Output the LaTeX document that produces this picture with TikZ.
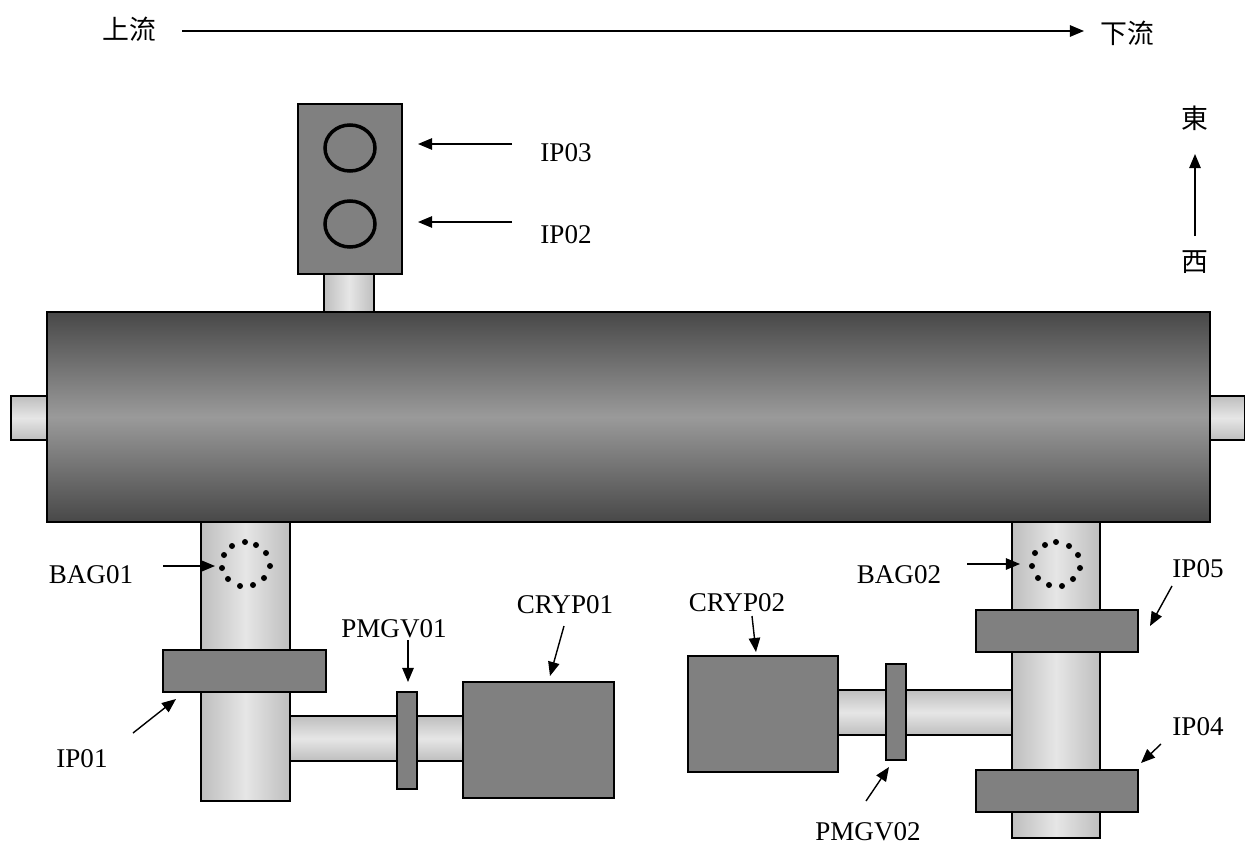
\documentclass[tikz,border=0pt]{standalone}
\usepackage{fontspec}
\setmainfont{Liberation Serif}
\newfontfamily\cjk{Noto Sans CJK TC}
\usetikzlibrary{arrows.meta}
\definecolor{boxgray}{HTML}{808080}
\definecolor{bodydark}{HTML}{484848}
\definecolor{bodymid}{HTML}{9A9A9A}
\definecolor{pipeedge}{HTML}{BEBEBE}
\definecolor{pipemid}{HTML}{E6E6E6}
\tikzset{
  part/.style={draw=black,line width=1pt},
  graybox/.style={part,fill=boxgray},
  vpipe/.style={part,left color=pipeedge,right color=pipeedge,middle color=pipemid},
  hpipe/.style={part,top color=pipeedge,bottom color=pipeedge,middle color=pipemid},
  mainbody/.style={part,top color=bodydark,bottom color=bodydark,middle color=bodymid},
  callout/.style={-{Stealth[length=8pt,width=6.5pt,inset=0pt]},line width=0.8pt},
  tag/.style={font=\fontsize{15.4pt}{17pt}\selectfont,inner sep=0pt},
  cjktag/.style={font=\fontsize{15.3pt}{17pt}\selectfont\cjk,inner sep=0pt},
}
\begin{document}
\begin{tikzpicture}[x=0.02cm,y=-0.02cm]
\useasboundingbox (0,0) rectangle (1245,845);
% ---- stubs and columns ----
\draw[hpipe] (11,396) rectangle (47,440);
\draw[hpipe] (1210,396) rectangle (1245,440);
\draw[vpipe] (324,274) rectangle (374,312);
\draw[vpipe] (201,522) rectangle (290,801);
\draw[vpipe] (1012,522) rectangle (1100,838);
\draw[mainbody] (47,312) rectangle (1210,522);
% ---- top box ----
\draw[graybox] (298,104) rectangle (402,274);
\draw[line width=2pt] (350,148) ellipse (25 and 23);
\draw[line width=2pt] (350,224) ellipse (25 and 23);
% ---- left line ----
\draw[hpipe] (290,716) rectangle (463,761);
\draw[graybox] (163,650) rectangle (326,692);
\draw[graybox] (397,692) rectangle (417,789);
\draw[graybox] (463,682) rectangle (614,798);
\foreach \x/\y in {245/542,256/545,266/553,270/566,264/578,253/585,240/586,228/579,222/568,224/555,232/546}
  \fill (\x,\y) circle (3);
% ---- right line ----
\draw[hpipe] (838,690) rectangle (1012,735);
\draw[graybox] (976,610) rectangle (1138,652);
\draw[graybox] (976,770) rectangle (1138,812);
\draw[graybox] (886,664) rectangle (906,760);
\draw[graybox] (688,656) rectangle (838,772);
\foreach \x/\y in {1056/542,1069/546,1078/555,1080/568,1073/579,1062/586,1049/585,1038/578,1032/566,1035/553,1045/545}
  \fill (\x,\y) circle (3);
% ---- flow and compass ----
\node[cjktag] (upstream) at (129,29) {上流};
\node[cjktag] (downstream) at (1127,33) {下流};
\coordinate (flowa) at (182,31);
\coordinate (flowb) at (1084,31);
\draw[callout] (flowa) -- (flowb);
\node[cjktag] (east) at (1195,118) {東};
\node[cjktag] (west) at (1195,262) {西};
\coordinate (compa) at (1195,236);
\coordinate (compb) at (1195,154);
\draw[callout] (compa) -- (compb);
% ---- callouts ----
\node[tag] (ip03) at (566,153) {IP03};
\coordinate (ip03a) at (512,144);
\coordinate (ip03b) at (418,144);
\draw[callout] (ip03a) -- (ip03b);
\node[tag] (ip02) at (566,235) {IP02};
\coordinate (ip02a) at (512,222);
\coordinate (ip02b) at (418,222);
\draw[callout] (ip02a) -- (ip02b);
\node[tag] (bag01) at (91,575) {BAG01};
\coordinate (bag01a) at (163,566);
\coordinate (bag01b) at (215,566);
\draw[callout] (bag01a) -- (bag01b);
\node[tag] (ip01) at (82,759) {IP01};
\coordinate (ip01a) at (133,733);
\coordinate (ip01b) at (176,699);
\draw[callout] (ip01a) -- (ip01b);
\node[tag] (pmgv01) at (394,629) {PMGV01};
\coordinate (pmgv01a) at (408,640);
\coordinate (pmgv01b) at (408,682);
\draw[callout] (pmgv01a) -- (pmgv01b);
\node[tag] (cryp01) at (565,605) {CRYP01};
\coordinate (cryp01a) at (564,626);
\coordinate (cryp01b) at (550,676);
\draw[callout] (cryp01a) -- (cryp01b);
\node[tag] (cryp02) at (737,603) {CRYP02};
\coordinate (cryp02a) at (752,616);
\coordinate (cryp02b) at (756,652);
\draw[callout] (cryp02a) -- (cryp02b);
\node[tag] (bag02) at (899,575) {BAG02};
\coordinate (bag02a) at (967,564);
\coordinate (bag02b) at (1020,564);
\draw[callout] (bag02a) -- (bag02b);
\node[tag] (ip05) at (1198,569) {IP05};
\coordinate (ip05a) at (1172,586);
\coordinate (ip05b) at (1150,626);
\draw[callout] (ip05a) -- (ip05b);
\node[tag] (ip04) at (1198,727) {IP04};
\coordinate (ip04a) at (1161,744);
\coordinate (ip04b) at (1141,763);
\draw[callout] (ip04a) -- (ip04b);
\node[tag] (pmgv02) at (868,832) {PMGV02};
\coordinate (pmgv02a) at (866,801);
\coordinate (pmgv02b) at (889,767);
\draw[callout] (pmgv02a) -- (pmgv02b);
\end{tikzpicture}
\end{document}
